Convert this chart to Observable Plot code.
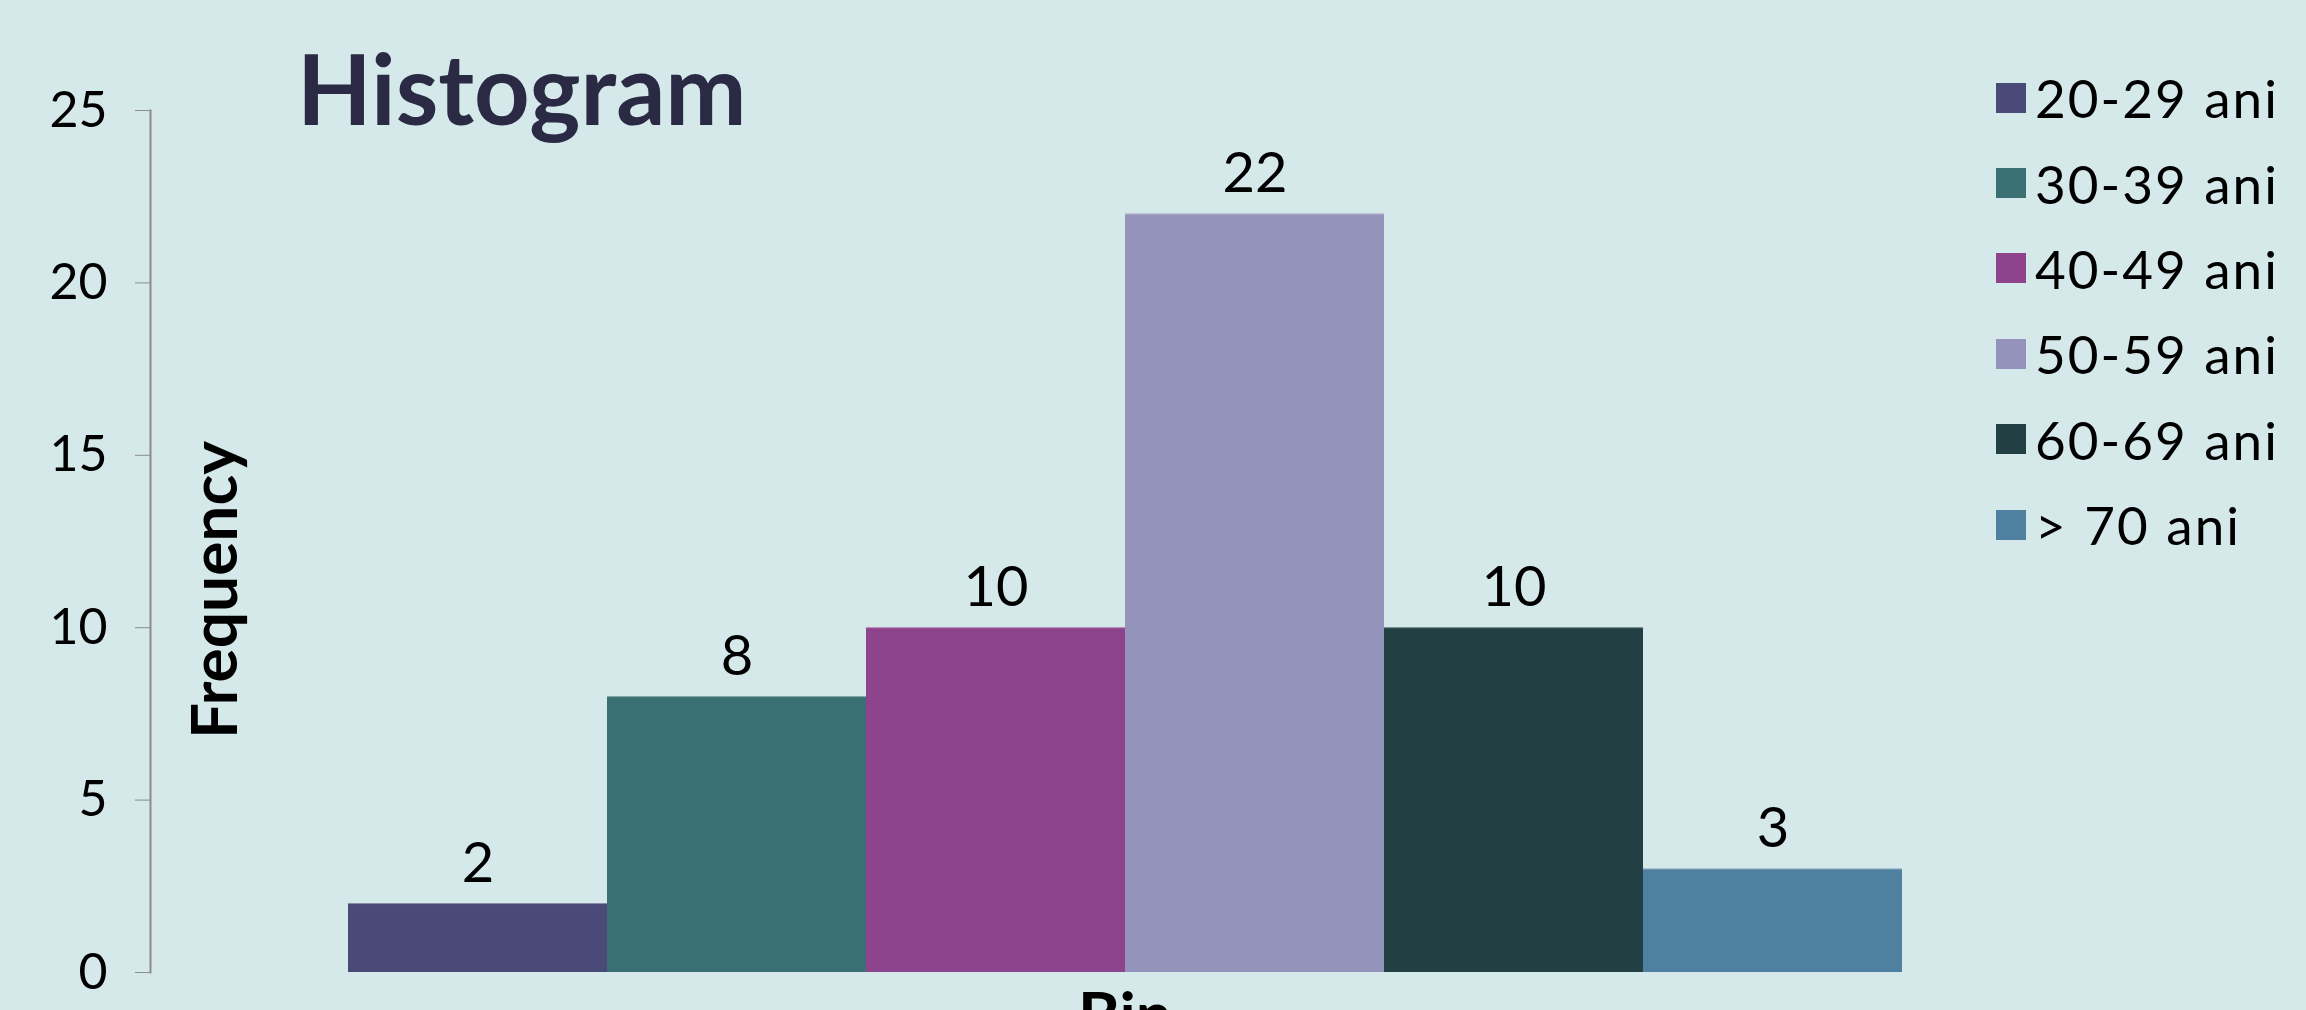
<!DOCTYPE html>
<html>
<head>
<meta charset="utf-8">
<script src="https://cdn.jsdelivr.net/npm/d3@7"></script>
<script src="https://cdn.jsdelivr.net/npm/@observablehq/plot@0.6"></script>
<style>
  html, body { margin: 0; padding: 0; overflow: hidden; background: #D5E8EA; }
  #wrap { position: relative; width: 2306px; height: 1010px; background: #D5E8EA; font-family: Lato, "Open Sans", sans-serif; }
  #chart { position: absolute; left: 0; top: 0; }
  #title { position: absolute; left: 297px; top: 38px; font-size: 97px; font-weight: 700; color: #2A2A45; line-height: 100px; white-space: nowrap; }
  #ylabel { position: absolute; left: 213px; top: 590px; font-size: 64px; font-weight: 700; color: #000; transform: translate(-50%, -50%) rotate(-90deg); white-space: nowrap; line-height: 64px; }
  #xlabel { position: absolute; left: 1125px; top: 982px; font-size: 64px; font-weight: 700; color: #000; transform: translateX(-50%); line-height: 64px; }
  #legend { position: absolute; left: 1996px; top: 55px; }
  .row { display: flex; align-items: center; height: 85.4px; }
  .sw { width: 30px; height: 30px; margin-right: 9px; }
  .lt { font-size: 53px; color: #000; white-space: nowrap; letter-spacing: 2px; word-spacing: 1px; }
</style>
</head>
<body>
<div id="wrap">
  <div id="chart"></div>
  <div id="title">Histogram</div>
  <div id="ylabel">Frequency</div>
  <div id="xlabel">Bin</div>
  <div id="legend"></div>
</div>
<script>
const categories = ["20-29 ani", "30-39 ani", "40-49 ani", "50-59 ani", "60-69 ani", "> 70 ani"];
const frequencies = [2, 8, 10, 22, 10, 3];
const colors = ["#4A4A78", "#3A7073", "#8E448D", "#9393BC", "#223F44", "#4F809F"];
const yTicks = [0, 5, 10, 15, 20, 25];

const data = categories.map((c, i) => ({bin: c, freq: frequencies[i]}));

const chart = Plot.plot({
  width: 2306,
  height: 1010,
  marginLeft: 150,
  marginRight: 404,
  marginTop: 110,
  marginBottom: 38,
  style: {background: "transparent", fontFamily: "Lato, 'Open Sans', sans-serif", color: "#000"},
  x: {domain: categories, padding: 0, axis: null, range: [347, 1902]},
  y: {domain: [0, 25], axis: null},
  color: {domain: categories, range: colors},
  marks: [
    Plot.barY(data, {x: "bin", y: "freq", fill: "bin", inset: 0}),
    Plot.ruleY(data, {x1: "bin", x2: "bin", y: "freq", stroke: "#ffffff", strokeOpacity: 0.35, strokeWidth: 1}),
    Plot.text(data, {x: "bin", y: "freq", text: d => String(d.freq), lineAnchor: "bottom", dy: -22, fontSize: 56, fill: "#000"}),
    Plot.axisY({ticks: yTicks, tickSize: 15, tickPadding: 28, fontSize: 50, stroke: "#8C8C8C", tickFormat: d => String(d), label: null}),
    Plot.frame({anchor: "left", stroke: "#8C8C8C", strokeWidth: 2})
  ]
});
document.getElementById("chart").appendChild(chart);

const legend = document.getElementById("legend");
categories.forEach((c, i) => {
  const row = document.createElement("div");
  row.className = "row";
  const sw = document.createElement("div");
  sw.className = "sw";
  sw.style.background = colors[i];
  const t = document.createElement("div");
  t.className = "lt";
  t.textContent = c;
  row.appendChild(sw);
  row.appendChild(t);
  legend.appendChild(row);
});
</script>
</body>
</html>
